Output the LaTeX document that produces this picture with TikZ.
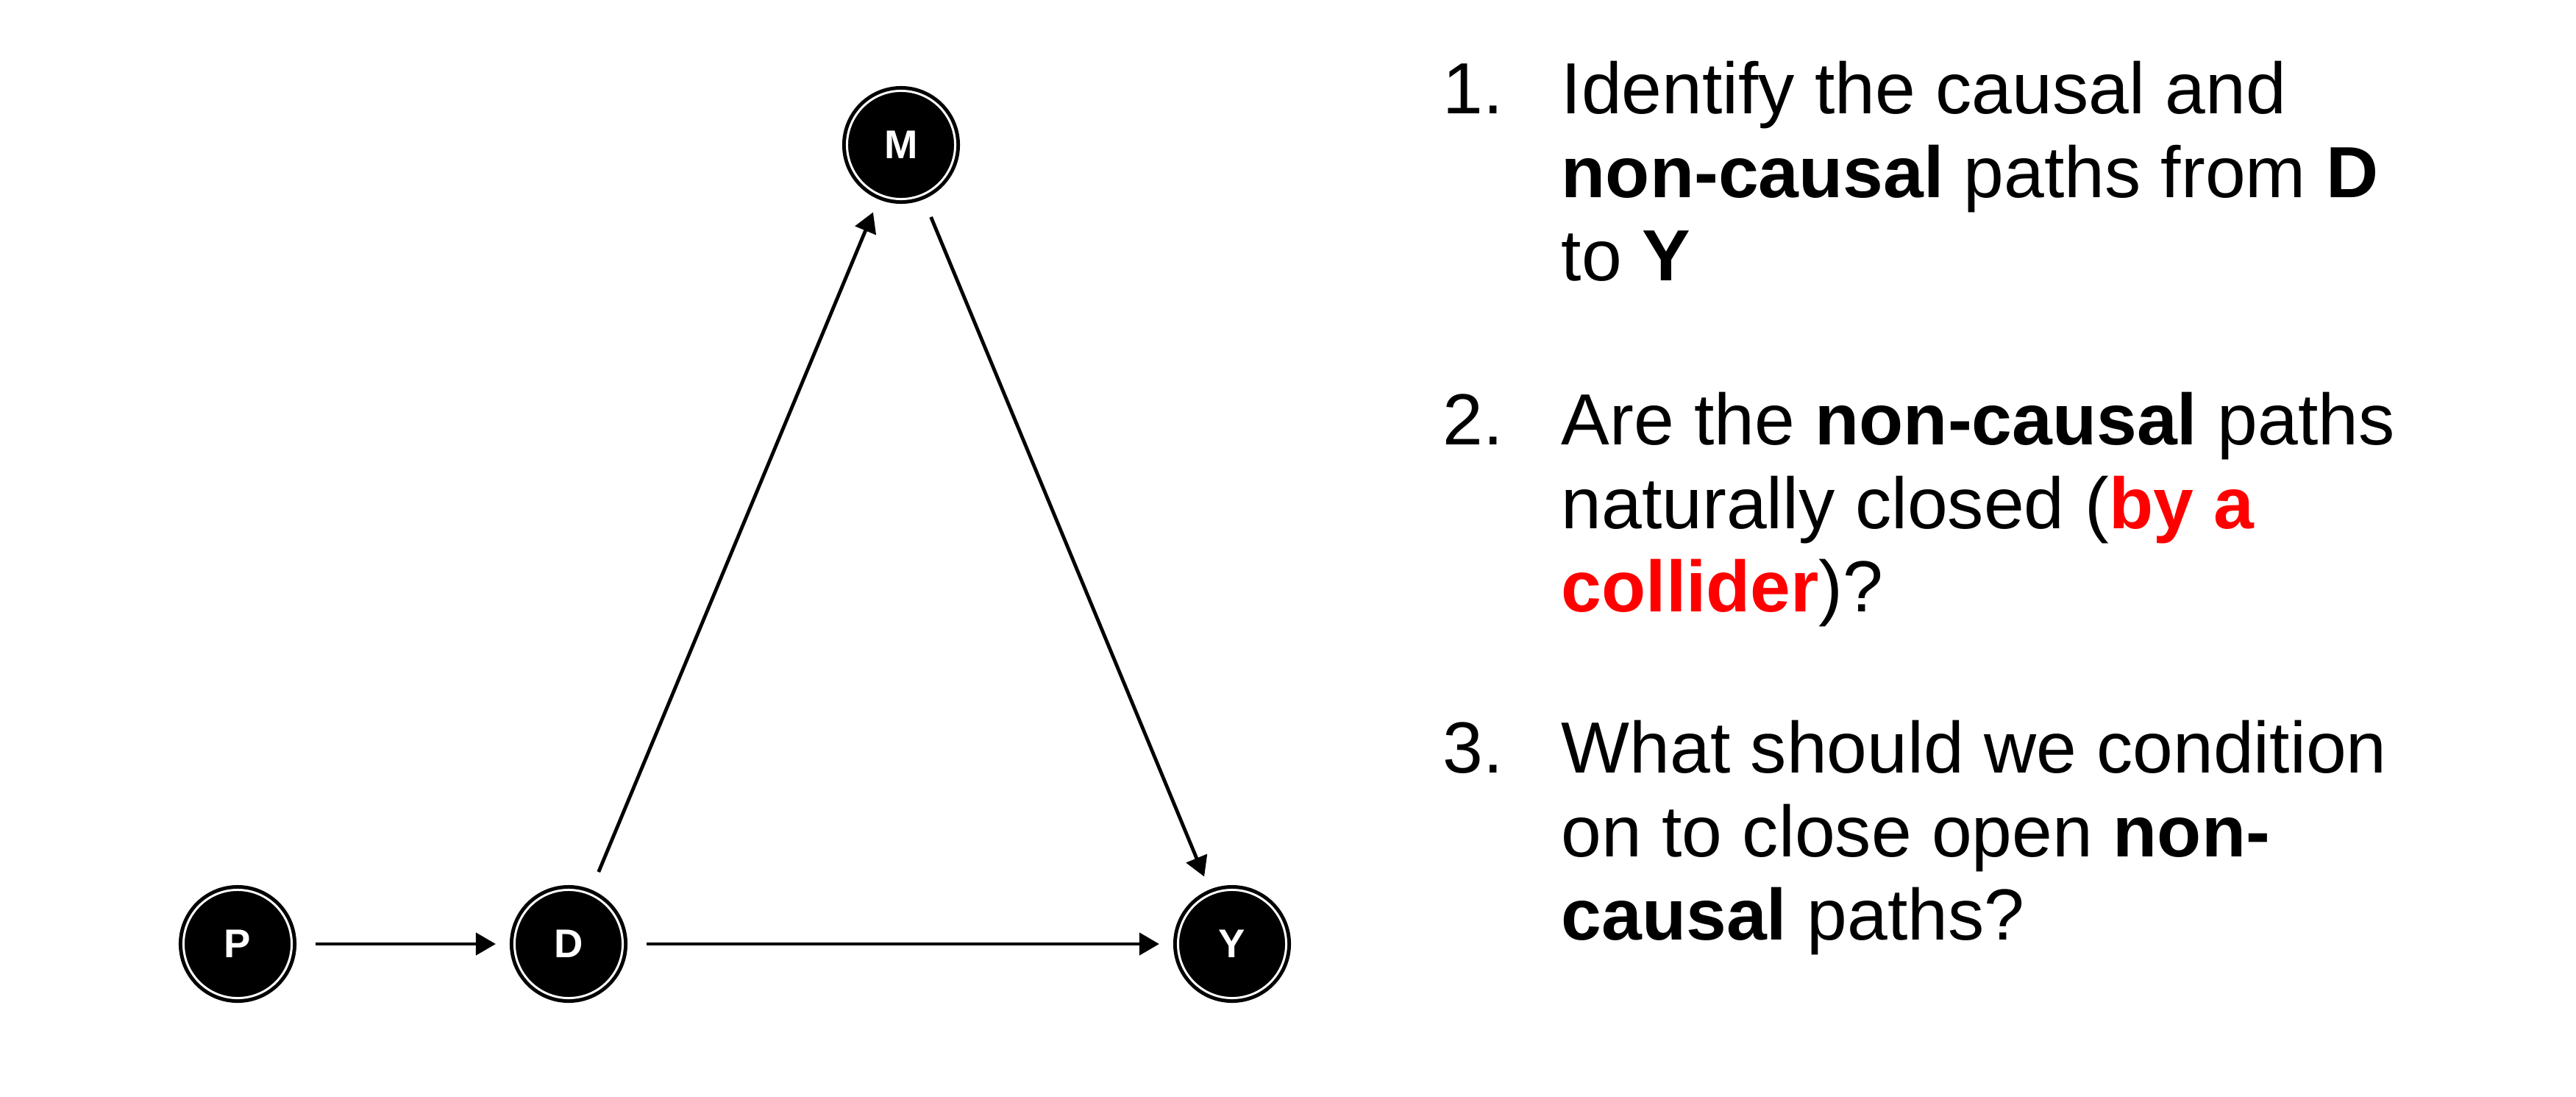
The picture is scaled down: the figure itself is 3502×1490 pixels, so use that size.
\documentclass[tikz,border=0pt]{standalone}
\usepackage{fontspec}
\setmainfont{Liberation Sans}
\usetikzlibrary{arrows.meta}
\definecolor{collider}{HTML}{FF0000}

\begin{document}
\begin{tikzpicture}[x=0.01cm, y=-0.01cm,
  var/.style={circle, fill=black, draw=black, line width=0.05cm, double=white,
              double distance=0.03cm, minimum size=1.47cm, inner sep=0pt, outer sep=0.065cm,
              text=white, font=\fontsize{15.5}{18}\selectfont\bfseries},
  arr/.style={-{Triangle[length=0.27cm, width=0.3cm]}, line width=0.048cm,
              shorten <=0.26cm, shorten >=0.19cm},
  num/.style={anchor=north west, inner sep=0pt, font=\fontsize{28}{32.3}\selectfont},
  item/.style={num, align=left},
]
\useasboundingbox (0,0) rectangle (3502,1490);

\node[var] (P) at (323,1283) {P};
\node[var] (D) at (773,1283) {D};
\node[var] (Y) at (1675,1283) {Y};
\node[var] (M) at (1225,197) {M};
\draw[arr] (P) -- (D);
\draw[arr] (D) -- (Y);
\draw[arr] (D) -- (M);
\draw[arr] (M) -- (Y);

\node[num] (n1) at (1961,54) {\rule{0pt}{1cm}1.};
\node[item] (q1) at (2122,54) {\rule{0pt}{1cm}Identify the causal and\\
  \textbf{non-causal} paths from \textbf{D}\\to \textbf{Y}};
\node[num] (n2) at (1961,504) {\rule{0pt}{1cm}2.};
\node[item] (q2) at (2122,504) {\rule{0pt}{1cm}Are the \textbf{non-causal} paths\\
  naturally closed ({\color{collider}\textbf{by a}}\\{\color{collider}\textbf{collider}})?};
\node[num] (n3) at (1961,950) {\rule{0pt}{1cm}3.};
\node[item] (q3) at (2122,950) {\rule{0pt}{1cm}What should we condition\\
  on to close open \textbf{non-}\\\textbf{causal} paths?};
\end{tikzpicture}
\end{document}
